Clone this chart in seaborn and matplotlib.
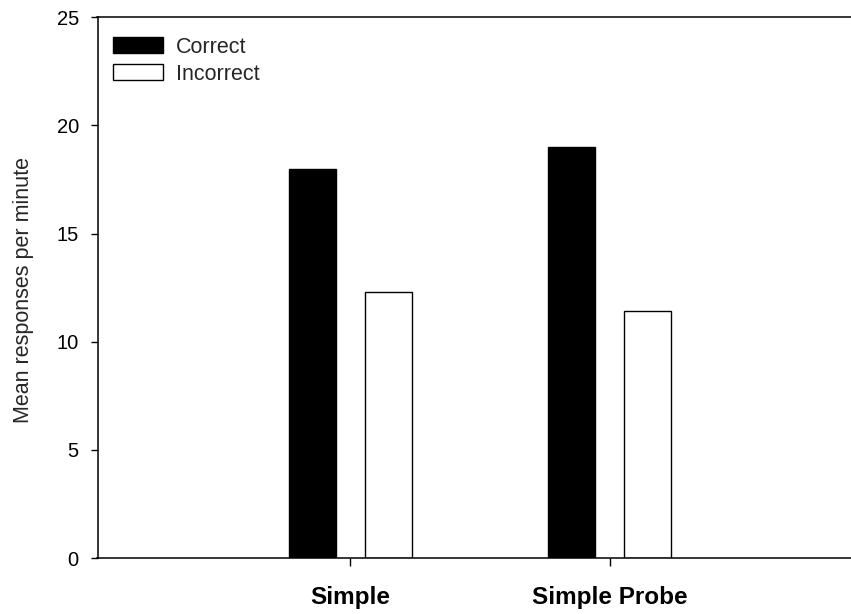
import matplotlib
matplotlib.use("Agg")
import matplotlib.pyplot as plt
import seaborn as sns
import pandas as pd

# ---- data ----
conditions = ["Simple", "Simple Probe"]
series_names = ["Correct", "Incorrect"]
correct = [18.0, 19.0]
incorrect = [12.3, 11.4]
y_ticks = [0, 5, 10, 15, 20, 25]
y_label = "Mean responses per minute"

df = pd.DataFrame({
    "Condition": conditions * 2,
    "Response": [series_names[0]] * len(conditions) + [series_names[1]] * len(conditions),
    "Rate": correct + incorrect,
})

sns.set_style("ticks")
plt.rcParams["font.family"] = ["Liberation Sans", "DejaVu Sans"]

W, H = 851, 614
fig = plt.figure(figsize=(W / 100, H / 100), dpi=100)
left, right, top, bottom = 97.5, 851, 17.3, 558
ax = fig.add_axes([left / W, 1 - bottom / H, (right - left) / W, (bottom - top) / H])

sns.barplot(data=df, x="Condition", y="Rate", hue="Response",
            order=conditions, hue_order=series_names,
            palette={"Correct": "black", "Incorrect": "white"},
            edgecolor="black", linewidth=1.0, width=0.588, gap=0.384,
            ax=ax, legend=True)

ax.set_xlim(-0.975, 1.93)
ax.set_ylim(0, 25)
ax.set_yticks(y_ticks)
ax.set_xlabel("")
ax.set_ylabel(y_label, fontsize=15.5)
ax.yaxis.set_label_coords(-0.084, 0.495)

sns.despine(ax=ax, top=False, right=True)
for s in ["left", "bottom", "top"]:
    ax.spines[s].set_linewidth(1.1)
    ax.spines[s].set_color("black")

ax.tick_params(axis="y", direction="out", length=5, width=1.0, labelsize=14.5, pad=8.5, colors="black")
ax.tick_params(axis="x", direction="out", length=5.5, width=1.0, labelsize=17.5, pad=15, colors="black")
for t in ax.get_xticklabels():
    t.set_fontweight("bold")

handles, labels = ax.get_legend_handles_labels()
ax.legend(handles, labels, loc="upper left", bbox_to_anchor=(0.0206, 0.964),
          frameon=False, fontsize=15.5, borderpad=0, borderaxespad=0,
          handlelength=2.33, handleheight=0.74, handletextpad=0.6, labelspacing=0.28)

fig.savefig("out.png", dpi=100)
